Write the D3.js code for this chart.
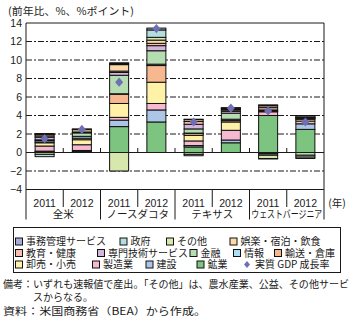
<!DOCTYPE html>
<html>
<head>
<meta charset="utf-8">
<script src="https://cdn.jsdelivr.net/npm/d3@7"></script>
<style>
  body { margin: 0; background: #fff; }
  svg { display: block; }
  text { font-family: "Noto Sans CJK JP", sans-serif; fill: #1a1a1a; }
  .num { font-family: "Liberation Sans", "Noto Sans CJK JP", sans-serif; }
</style>
</head>
<body>
<svg id="chart" width="359" height="324"></svg>
<script>
// Bar keys (region x year), year labels and region labels
const barKeys = ["US11", "US12", "ND11", "ND12", "TX11", "TX12", "WV11", "WV12"];
const years = ["2011", "2012", "2011", "2012", "2011", "2012", "2011", "2012"];
const regions = ["全米", "ノースダコタ", "テキサス", "ウェストバージニア"];
const yTicks = [-4, -2, 0, 2, 4, 6, 8, 10, 12, 14];

// Contribution to growth by industry (percentage points), stacked bottom-up
const mining        = [0.10, 0.10, 2.80, 3.30, 0.60, 1.05, 4.00, 2.50];
const construction  = [0.05, 0.12, 0.70, 1.30, 0.15, 0.30, -0.10, 0.60];
const manufacturing = [0.55, 0.62, 0.30, 0.70, 0.50, 1.05, 0.40, 0.30];
const trade         = [0.35, 0.54, 1.50, 2.30, 0.60, 0.90, 0.05, 0.20];
const transport     = [0.05, 0.17, 1.00, 1.80, 0.20, 0.15, 0.05, 0.05];
const information   = [0.17, 0.20, 0.05, 0.15, 0.05, 0.15, -0.05, 0.05];
const finance       = [0.10, 0.37, 2.00, 1.45, 0.45, 0.65, -0.15, -0.30];
const professional  = [0.28, 0.05, 0.30, 0.55, 0.50, 0.20, 0.10, 0.05];
const education     = [0.15, 0.05, 0.15, 0.25, 0.30, 0.15, 0.25, 0.05];
const leisure       = [0.15, 0.25, 0.70, 0.35, 0.20, 0.10, 0.20, 0.05];
const other         = [-0.20, 0.00, -2.00, 0.30, -0.20, 0.05, -0.35, -0.20];
const government    = [-0.25, 0.03, 0.10, 0.80, -0.15, 0.05, -0.05, -0.15];
const adminServices = [0.10, 0.05, 0.10, 0.20, 0.05, 0.05, 0.10, 0.15];

// Real GDP growth (%)
const gdpGrowth = [1.5, 2.5, 7.6, 13.4, 3.3, 4.8, 4.5, 3.3];

const series = [
  { name: "鉱業", values: mining, color: "#7cc47f" },
  { name: "建設", values: construction, color: "#adc6e6" },
  { name: "製造業", values: manufacturing, color: "#f7b9d2" },
  { name: "卸売・小売", values: trade, color: "#fff2a8" },
  { name: "輸送・倉庫", values: transport, color: "#f8b88f" },
  { name: "情報", values: information, color: "#ade0f5" },
  { name: "金融", values: finance, color: "#b6dcb1" },
  { name: "専門技術サービス", values: professional, color: "#d4b5dc" },
  { name: "教育・健康", values: education, color: "#f6bdb1" },
  { name: "娯楽・宿泊・飲食", values: leisure, color: "#fcd9a6" },
  { name: "その他", values: other, color: "#d7e8ad" },
  { name: "政府", values: government, color: "#b3dedd" },
  { name: "事務管理サービス", values: adminServices, color: "#ababda" }
];
const gdpColor = "#6f6fb4";

const table = barKeys.map((k, i) => {
  const row = { key: k };
  series.forEach(s => { row[s.name] = s.values[i]; });
  return row;
});

const svg = d3.select("#chart");

const x = d3.scaleBand().domain(barKeys).range([26, 324])
  .paddingInner(0.49).paddingOuter(0.245);
const y = d3.scaleLinear().domain([-4, 14]).range([189.5, 23]);
const step = x.step();

// Dashed gridlines
svg.append("g").selectAll("line")
  .data(yTicks.filter(t => t !== 0 && t !== 14 && t !== -4))
  .join("line")
  .attr("x1", 26).attr("x2", 324)
  .attr("y1", d => y(d)).attr("y2", d => y(d))
  .attr("stroke", "#1a1a1a").attr("stroke-width", 1)
  .attr("stroke-dasharray", "6,2,2,2");

// Y axis labels
const yAxis = d3.axisLeft(y).tickValues(yTicks).tickSize(0).tickPadding(4);
const yg = svg.append("g").attr("transform", "translate(26,0)").call(yAxis);
yg.select(".domain").remove();
yg.selectAll("text").attr("class", "num").style("font-size", "10.5px")
  .style("font-family", "'Liberation Sans', sans-serif").attr("fill", "#1a1a1a");

// Stacked bars
const stack = d3.stack().keys(series.map(s => s.name)).offset(d3.stackOffsetDiverging);
const layers = stack(table);
svg.append("g").selectAll("g")
  .data(layers)
  .join("g")
  .attr("fill", (d, i) => series[i].color)
  .selectAll("rect")
  .data(d => d)
  .join("rect")
  .attr("x", d => x(d.data.key))
  .attr("width", x.bandwidth())
  .attr("y", d => y(Math.max(d[0], d[1])))
  .attr("height", d => Math.abs(y(d[0]) - y(d[1])))
  .attr("stroke", "#111").attr("stroke-width", 1);

// Frame: top, right, left, bottom, zero line
const frame = svg.append("g").attr("stroke", "#1a1a1a").attr("stroke-width", 1);
frame.append("line").attr("x1", 26).attr("x2", 324).attr("y1", y(14)).attr("y2", y(14));
frame.append("line").attr("x1", 26).attr("x2", 324).attr("y1", y(-4)).attr("y2", y(-4));
frame.append("line").attr("x1", 26).attr("x2", 324).attr("y1", y(0)).attr("y2", y(0));
frame.append("line").attr("x1", 26).attr("x2", 26).attr("y1", y(14)).attr("y2", 219.5);
frame.append("line").attr("x1", 324).attr("x2", 324).attr("y1", y(14)).attr("y2", 219.5);

// Category boundary ticks on the zero line
const bounds = d3.range(1, barKeys.length).map(i => 26 + i * step);
frame.selectAll(".zt").data(bounds).join("line")
  .attr("x1", d => d).attr("x2", d => d)
  .attr("y1", y(0) - 4.5).attr("y2", y(0));

// Dividers below the plot: short between years, long between regions
frame.selectAll(".dv").data(bounds).join("line")
  .attr("x1", d => d).attr("x2", d => d)
  .attr("y1", y(-4))
  .attr("y2", (d, i) => (i % 2 === 1 ? 219.5 : 207));

// Year labels
svg.append("g").selectAll("text").data(barKeys).join("text")
  .attr("class", "num")
  .attr("x", d => x(d) + x.bandwidth() / 2)
  .attr("y", 206.5)
  .attr("text-anchor", "middle")
  .style("font-size", "10.5px")
  .text((d, i) => years[i]);

// Region labels
svg.append("g").selectAll("text").data(regions).join("text")
  .attr("x", (d, i) => 26 + step * (2 * i + 1))
  .attr("y", 218)
  .attr("text-anchor", "middle")
  .style("font-size", "10.5px")
  .each(function (d) {
    if (d.length > 7) d3.select(this).attr("textLength", 71).attr("lengthAdjust", "spacingAndGlyphs");
  })
  .text(d => d);

svg.append("text").attr("x", 337).attr("y", 206.5).attr("text-anchor", "middle")
  .style("font-size", "10.5px").text("(年)");

// GDP growth markers
const diamond = "M0,-4.6L4,0L0,4.6L-4,0Z";
svg.append("g").selectAll("path").data(gdpGrowth).join("path")
  .attr("d", diamond)
  .attr("transform", (d, i) => `translate(${x(barKeys[i]) + x.bandwidth() / 2},${y(d)})`)
  .attr("fill", gdpColor);

// Unit label
svg.append("text").attr("x", 8).attr("y", 15).style("font-size", "10.5px")
  .attr("textLength", 126).attr("lengthAdjust", "spacingAndGlyphs")
  .text("(前年比、%、%ポイント)");

// Legend
svg.append("rect").attr("x", 13.5).attr("y", 227.5).attr("width", 327).attr("height", 45)
  .attr("fill", "none").attr("stroke", "#1a1a1a").attr("stroke-width", 1);

const legendRows = [
  [["事務管理サービス", 15], ["政府", 119.5], ["その他", 166], ["娯楽・宿泊・飲食", 229.5]],
  [["教育・健康", 15], ["専門技術サービス", 97], ["金融", 189.5], ["情報", 233], ["輸送・倉庫", 274]],
  [["卸売・小売", 15], ["製造業", 92], ["建設", 145.5], ["鉱業", 196.5]]
];
const rowY = [241.5, 253, 264.5];
const colorOf = name => series.find(s => s.name === name).color;
const lg = svg.append("g");
legendRows.forEach((row, r) => {
  row.forEach(([name, lx]) => {
    lg.append("rect").attr("x", lx + 0.5).attr("y", rowY[r] - 3.5).attr("width", 7).attr("height", 7)
      .attr("fill", colorOf(name)).attr("stroke", "#111").attr("stroke-width", 1);
    lg.append("text").attr("x", lx + 11).attr("y", rowY[r] + 3.8)
      .style("font-size", "10px").text(name);
  });
});
lg.append("path").attr("d", "M0,-3.6L3,0L0,3.6L-3,0Z")
  .attr("transform", `translate(247,${rowY[2]})`).attr("fill", gdpColor);
lg.append("text").attr("x", 255).attr("y", rowY[2] + 3.8).style("font-size", "10px")
  .text("実質 GDP 成長率");

// Notes
const notes = svg.append("g").style("font-size", "10px");
notes.append("text").attr("x", 3).attr("y", 287.5)
  .attr("textLength", 346).attr("lengthAdjust", "spacingAndGlyphs")
  .text("備考：いずれも速報値で産出。「その他」は、農水産業、公益、その他サービ");
notes.append("text").attr("x", 33).attr("y", 300.5).text("スからなる。");
notes.append("text").attr("x", 3).attr("y", 314.5)
  .attr("textLength", 203).attr("lengthAdjust", "spacingAndGlyphs")
  .text("資料：米国商務省（BEA）から作成。");
</script>
</body>
</html>
